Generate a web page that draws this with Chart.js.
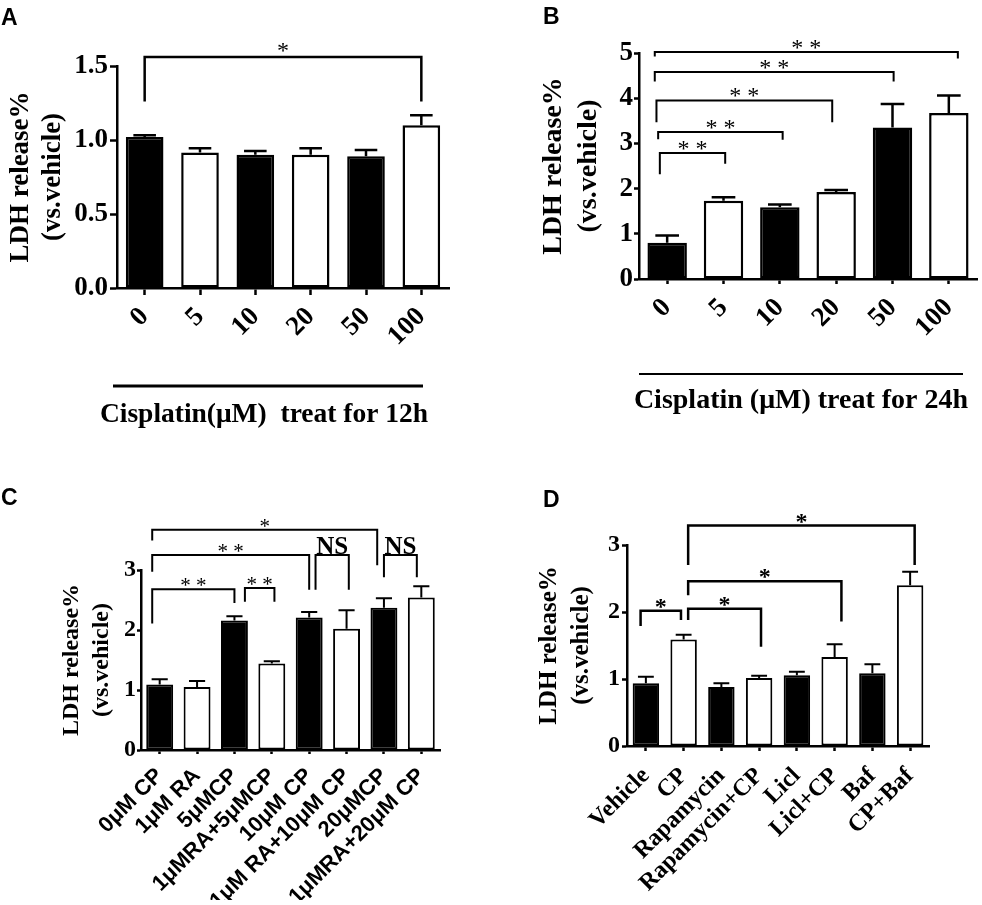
<!DOCTYPE html>
<html>
<head>
<meta charset="utf-8">
<script src="https://cdn.jsdelivr.net/npm/chart.js@4.4.1/dist/chart.umd.min.js"></script>
<style>
  html, body { margin: 0; padding: 0; background: #fff; }
  #fig { position: relative; width: 982px; height: 905px; overflow: hidden; }
  .panel { position: absolute; }
</style>
</head>
<body>
<div id="fig">
  <div class="panel" style="left:0;top:0;width:491px;height:450px"><canvas id="chartA"></canvas></div>
  <div class="panel" style="left:491px;top:0;width:491px;height:450px"><canvas id="chartB"></canvas></div>
  <div class="panel" style="left:0;top:450px;width:491px;height:455px"><canvas id="chartC"></canvas></div>
  <div class="panel" style="left:491px;top:450px;width:491px;height:455px"><canvas id="chartD"></canvas></div>
</div>
<script>
const SERIF = '"Liberation Serif", "Times New Roman", serif';
const SANS = '"Liberation Sans", Arial, sans-serif';
const Y_TITLE = ['LDH release%', '(vs.vehicle)'];

// A: cisplatin 12h
const labelsA = ['0', '5', '10', '20', '50', '100'];
const meanA = [1.02, 0.915, 0.90, 0.90, 0.89, 1.10];
const semA = [0.012, 0.03, 0.025, 0.045, 0.042, 0.068];
const ticksA = [0, 0.5, 1.0, 1.5];
const sigA = [
  { from: 0, to: 5, top: 1.56, left: 1.26, right: 1.26, mark: '*' }
];

// B: cisplatin 24h
const labelsB = ['0', '5', '10', '20', '50', '100'];
const meanB = [0.80, 1.73, 1.59, 1.925, 3.35, 3.67];
const semB = [0.16, 0.08, 0.06, 0.045, 0.52, 0.39];
const ticksB = [0, 1, 2, 3, 4, 5];
const sigB = [
  { from: -0.13, to: 1.03, top: 2.79, left: 2.32, right: 2.55, mark: '* *' },
  { from: -0.16, to: 2.05, top: 3.25, left: 3.09, right: 3.08, mark: '* *' },
  { from: -0.19, to: 2.93, top: 3.95, left: 3.47, right: 3.47, mark: '* *' },
  { from: -0.22, to: 4.02, top: 4.58, left: 4.37, right: 4.37, mark: '* *' },
  { from: -0.22, to: 5.16, top: 5.02, left: 4.92, right: 4.88, mark: '* *' }
];

// C: RA + cisplatin
const labelsC = ['0μM CP', '1μM RA', '5μMCP', '1μMRA+5μMCP', '10μM CP', '1μM RA+10μM CP', '20μMCP', '1μMRA+20μM CP'];
const meanC = [1.09, 1.05, 2.16, 1.44, 2.21, 2.02, 2.37, 2.54];
const semC = [0.09, 0.10, 0.07, 0.04, 0.09, 0.31, 0.16, 0.19];
const ticksC = [0, 1, 2, 3];
const sigC = [
  { from: -0.2, to: 2.0, top: 2.68, left: 2.11, right: 2.45, mark: '* *' },
  { from: 2.28, to: 3.07, top: 2.70, left: 2.47, right: 2.47, mark: '* *' },
  { from: -0.2, to: 4.0, top: 3.25, left: 2.97, right: 2.67, mark: '* *' },
  { from: 4.17, to: 5.06, top: 3.25, left: 2.67, right: 2.67, mark: 'NS' },
  { from: -0.2, to: 5.82, top: 3.67, left: 3.49, right: 3.08, mark: '*' },
  { from: 6.0, to: 6.88, top: 3.25, left: 2.88, right: 2.88, mark: 'NS' }
];

// D: autophagy modulators
const labelsD = ['Vehicle', 'CP', 'Rapamycin', 'Rapamycin+CP', 'Licl', 'Licl+CP', 'Baf', 'CP+Baf'];
const meanD = [0.935, 1.59, 0.88, 1.015, 1.055, 1.33, 1.085, 2.40];
const semD = [0.10, 0.07, 0.055, 0.035, 0.055, 0.19, 0.135, 0.20];
const ticksD = [0, 1, 2, 3];
const sigD = [
  { from: -0.14, to: 0.93, top: 2.02, left: 1.79, right: 1.88, mark: '*' },
  { from: 1.12, to: 3.05, top: 2.05, left: 1.88, right: 1.48, mark: '*' },
  { from: 1.12, to: 5.18, top: 2.46, left: 2.25, right: 1.86, mark: '*' },
  { from: 1.12, to: 7.12, top: 3.29, left: 2.70, right: 2.70, mark: '*' }
];

const panels = [
  {
    id: 'chartA', letter: 'A', letterX: 1, letterY: 25,
    labels: labelsA, mean: meanA, sem: semA, yTicks: ticksA, sig: sigA, digits: 1,
    left: 117, right: 42, top: 66, bottom: 42, xH: 120,
    tick: 7, axisW: 2.5, yFont: 27, yPad: 2, xFont: 27, xFamily: SERIF, xPad: 6,
    titleSize: 27, titleLH: 1.15, titlePad: 6,
    barPct: 0.68, barBorder: 2.5, errW: 2.5, sigW: 2.5,
    starSize: 24, starWeight: 'normal', starDy: 1, nsSize: 24,
    caption: { text: 'Cisplatin(μM)  treat for 12h', x: 264, y: 422, size: 27.5, lineY: 386, x1: 113, x2: 423, lineW: 3 }
  },
  {
    id: 'chartB', letter: 'B', letterX: 52, letterY: 24,
    labels: labelsB, mean: meanB, sem: semB, yTicks: ticksB, sig: sigB, digits: 0,
    left: 148, right: 5, top: 53, bottom: 51, xH: 120,
    tick: 5, axisW: 2.5, yFont: 27, yPad: 1, xFont: 27, xFamily: SERIF, xPad: 8,
    titleSize: 28, titleLH: 1.25, titlePad: 45,
    barPct: 0.70, barBorder: 2.5, errW: 2.5, sigW: 2,
    starSize: 24, starWeight: 'normal', starDy: 3, nsSize: 24,
    caption: { text: 'Cisplatin (μM) treat for 24h', x: 310, y: 408, size: 28, lineY: 374, x1: 148, x2: 472, lineW: 2 }
  },
  {
    id: 'chartC', letter: 'C', letterX: 1, letterY: 55,
    labels: labelsC, mean: meanC, sem: semC, yTicks: ticksC, sig: sigC, digits: 0,
    left: 141, right: 51, top: 120, bottom: 5, xH: 150,
    tick: 4, axisW: 2.5, yFont: 24, yPad: 1, xFont: 22, xFamily: SANS, xPad: 9,
    titleSize: 24, titleLH: 1.25, titlePad: 57,
    barPct: 0.72, barBorder: 2, errW: 2, sigW: 2,
    starSize: 21, starWeight: 'normal', starDy: 3, nsSize: 25
  },
  {
    id: 'chartD', letter: 'D', letterX: 52, letterY: 57,
    labels: labelsD, mean: meanD, sem: semD, yTicks: ticksD, sig: sigD, digits: 0,
    left: 136, right: 53, top: 95, bottom: 9, xH: 150,
    tick: 5, axisW: 2.5, yFont: 24, yPad: 2, xFont: 24, xFamily: SERIF, xPad: 11,
    titleSize: 25, titleLH: 1.28, titlePad: 43,
    barPct: 0.70, barBorder: 2, errW: 2, sigW: 2.5,
    starSize: 24, starWeight: 'bold', starDy: 3, nsSize: 24
  }
];

function decor(P) {
  return {
    id: 'decor' + P.letter,
    afterDatasetsDraw(chart) {
      const { ctx, scales: { y } } = chart;
      const bars = chart.getDatasetMeta(0).data;
      ctx.save();
      ctx.strokeStyle = '#000';
      ctx.lineWidth = P.errW;
      bars.forEach((bar, i) => {
        const top = y.getPixelForValue(P.mean[i]);
        const end = y.getPixelForValue(P.mean[i] + P.sem[i]);
        const half = bar.width * 0.3;
        ctx.beginPath();
        ctx.moveTo(bar.x, top);
        ctx.lineTo(bar.x, end);
        ctx.moveTo(bar.x - half, end);
        ctx.lineTo(bar.x + half, end);
        ctx.stroke();
      });
      ctx.restore();
    },
    afterDraw(chart) {
      const { ctx, scales: { x, y } } = chart;
      const x0 = x.getPixelForValue(0);
      const step = x.getPixelForValue(1) - x0;
      const cx = v => x0 + v * step;
      ctx.save();
      ctx.strokeStyle = '#000';
      ctx.fillStyle = '#000';
      ctx.lineWidth = P.sigW;
      ctx.textAlign = 'center';
      ctx.textBaseline = 'alphabetic';
      P.sig.forEach(s => {
        const xa = cx(s.from), xb = cx(s.to), yt = y.getPixelForValue(s.top);
        ctx.beginPath();
        ctx.moveTo(xa, y.getPixelForValue(s.left));
        ctx.lineTo(xa, yt);
        ctx.lineTo(xb, yt);
        ctx.lineTo(xb, y.getPixelForValue(s.right));
        ctx.stroke();
        const ns = s.mark === 'NS';
        ctx.font = ns ? `bold ${P.nsSize}px ${SERIF}` : `${P.starWeight} ${P.starSize}px ${SERIF}`;
        ctx.fillText(s.mark, (xa + xb) / 2, yt + (ns ? -1 : P.starDy));
      });

      ctx.textAlign = 'left';
      ctx.font = `bold 23px ${SANS}`;
      ctx.fillText(P.letter, P.letterX, P.letterY);

      const c = P.caption;
      if (c) {
        ctx.lineWidth = c.lineW;
        ctx.beginPath();
        ctx.moveTo(c.x1, c.lineY);
        ctx.lineTo(c.x2, c.lineY);
        ctx.stroke();
        ctx.textAlign = 'center';
        ctx.font = `bold ${c.size}px ${SERIF}`;
        ctx.fillText(c.text, c.x, c.y);
      }
      ctx.restore();
    }
  };
}

function makeChart(P) {
  const axisGrid = {
    display: true, drawOnChartArea: false, drawTicks: true,
    tickLength: P.tick, tickWidth: P.axisW, tickColor: '#000'
  };
  return new Chart(document.getElementById(P.id), {
    type: 'bar',
    data: {
      labels: P.labels,
      datasets: [{
        data: P.mean,
        backgroundColor: c => (c.dataIndex % 2 ? '#fff' : '#000'),
        borderColor: '#000',
        borderWidth: P.barBorder,
        borderSkipped: false,
        barPercentage: P.barPct,
        categoryPercentage: 1
      }]
    },
    options: {
      responsive: true,
      maintainAspectRatio: false,
      animation: false,
      events: [],
      layout: { padding: { left: 0, top: P.top, right: P.right, bottom: P.bottom } },
      plugins: { legend: { display: false }, tooltip: { enabled: false } },
      scales: {
        x: {
          grid: Object.assign({ offset: false }, axisGrid),
          border: { color: '#000', width: P.axisW },
          ticks: {
            color: '#000', autoSkip: false, minRotation: 45, maxRotation: 45, padding: P.xPad,
            font: { family: P.xFamily, size: P.xFont, weight: 'bold' }
          },
          afterFit: s => { s.height = P.xH; }
        },
        y: {
          min: 0,
          max: P.yTicks[P.yTicks.length - 1],
          grid: axisGrid,
          border: { color: '#000', width: P.axisW },
          ticks: {
            color: '#000', padding: P.yPad,
            font: { family: SERIF, size: P.yFont, weight: 'bold' },
            callback: v => Number(v).toFixed(P.digits)
          },
          afterBuildTicks: s => { s.ticks = P.yTicks.map(v => ({ value: v })); },
          afterFit: s => { s.width = P.left; },
          title: {
            display: true, text: Y_TITLE, color: '#000',
            font: { family: SERIF, size: P.titleSize, weight: 'bold', lineHeight: P.titleLH },
            padding: { top: P.titlePad, bottom: 0 }
          }
        }
      }
    },
    plugins: [decor(P)]
  });
}

panels.forEach(makeChart);
</script>
</body>
</html>
